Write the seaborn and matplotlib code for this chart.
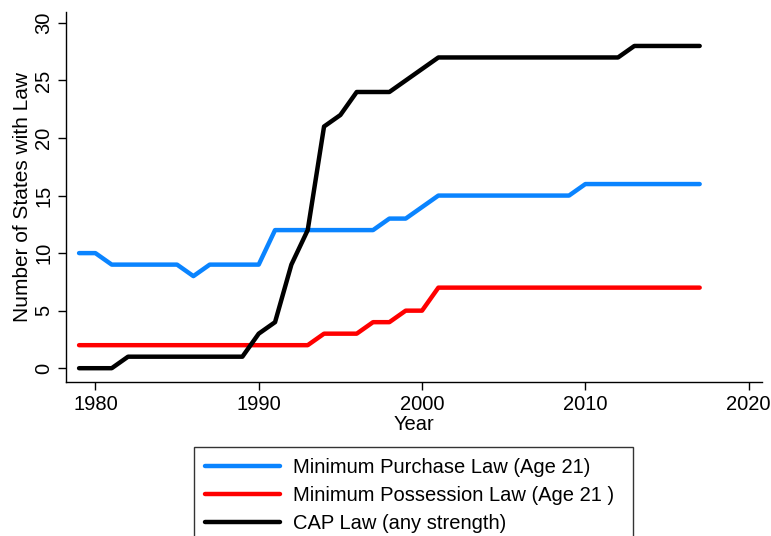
import matplotlib
matplotlib.use("Agg")
import matplotlib.pyplot as plt
import seaborn as sns
import pandas as pd

years = list(range(1979, 2018))
purchase = [10, 10, 9, 9, 9, 9, 9, 8, 9, 9, 9, 9, 12, 12, 12, 12, 12, 12, 12, 13,
            13, 14, 15, 15, 15, 15, 15, 15, 15, 15, 15, 16, 16, 16, 16, 16, 16, 16, 16]
possession = [2, 2, 2, 2, 2, 2, 2, 2, 2, 2, 2, 2, 2, 2, 2, 3, 3, 3, 4, 4,
              5, 5, 7, 7, 7, 7, 7, 7, 7, 7, 7, 7, 7, 7, 7, 7, 7, 7, 7]
cap = [0, 0, 0, 1, 1, 1, 1, 1, 1, 1, 1, 3, 4, 9, 12, 21, 22, 24, 24, 24,
       25, 26, 27, 27, 27, 27, 27, 27, 27, 27, 27, 27, 27, 27, 28, 28, 28, 28, 28]

labels = ["Minimum Purchase Law (Age 21)", "Minimum Possession Law (Age 21 )",
          "CAP Law (any strength)"]
colors = ["#0A84FF", "#FF0000", "#000000"]

df = pd.concat([
    pd.DataFrame({"Year": years, "n": vals, "law": lab})
    for vals, lab in zip([purchase, possession, cap], labels)
])

sns.set_style("white")
plt.rcParams["font.family"] = ["Liberation Sans", "DejaVu Sans"]
plt.rcParams.update({"text.color": "black", "axes.labelcolor": "black",
                     "xtick.color": "black", "ytick.color": "black"})

fig = plt.figure(figsize=(7.71, 5.36), dpi=100)
ax = fig.add_axes([0.0856, 0.2873, 0.9024, 0.6903])

sns.lineplot(data=df, x="Year", y="n", hue="law", palette=colors,
             linewidth=3.2, ax=ax, legend=True)

ax.set_xlim(1978.2, 2020.8)
ax.set_ylim(-1.2, 30.95)
ax.set_xticks([1980, 1990, 2000, 2010, 2020])
ax.set_yticks([0, 5, 10, 15, 20, 25, 30])
ax.tick_params(axis="both", which="major", direction="out", length=6, width=1,
               labelsize=14.5, bottom=True, left=True, pad=3)
plt.setp(ax.get_yticklabels(), rotation=90, va="center")
ax.set_xlabel("Year", fontsize=14.5, labelpad=1)
ax.set_ylabel("Number of States with Law", fontsize=15, labelpad=2)

sns.despine(ax=ax)
for s in ["left", "bottom"]:
    ax.spines[s].set_color("black")
    ax.spines[s].set_linewidth(1)

leg = ax.legend(loc="upper left", bbox_to_anchor=(0.2516, 0.0, 0.5694, 0.1666),
                bbox_transform=fig.transFigure, mode="expand", fontsize=14.5,
                frameon=True, fancybox=False, handlelength=3.7,
                borderpad=0.55, labelspacing=0.45, handletextpad=0.65,
                borderaxespad=0)
leg.get_frame().set_edgecolor("black")
leg.get_frame().set_linewidth(1)
for line in leg.get_lines():
    line.set_linewidth(3.2)

fig.savefig("out.png", dpi=100)
